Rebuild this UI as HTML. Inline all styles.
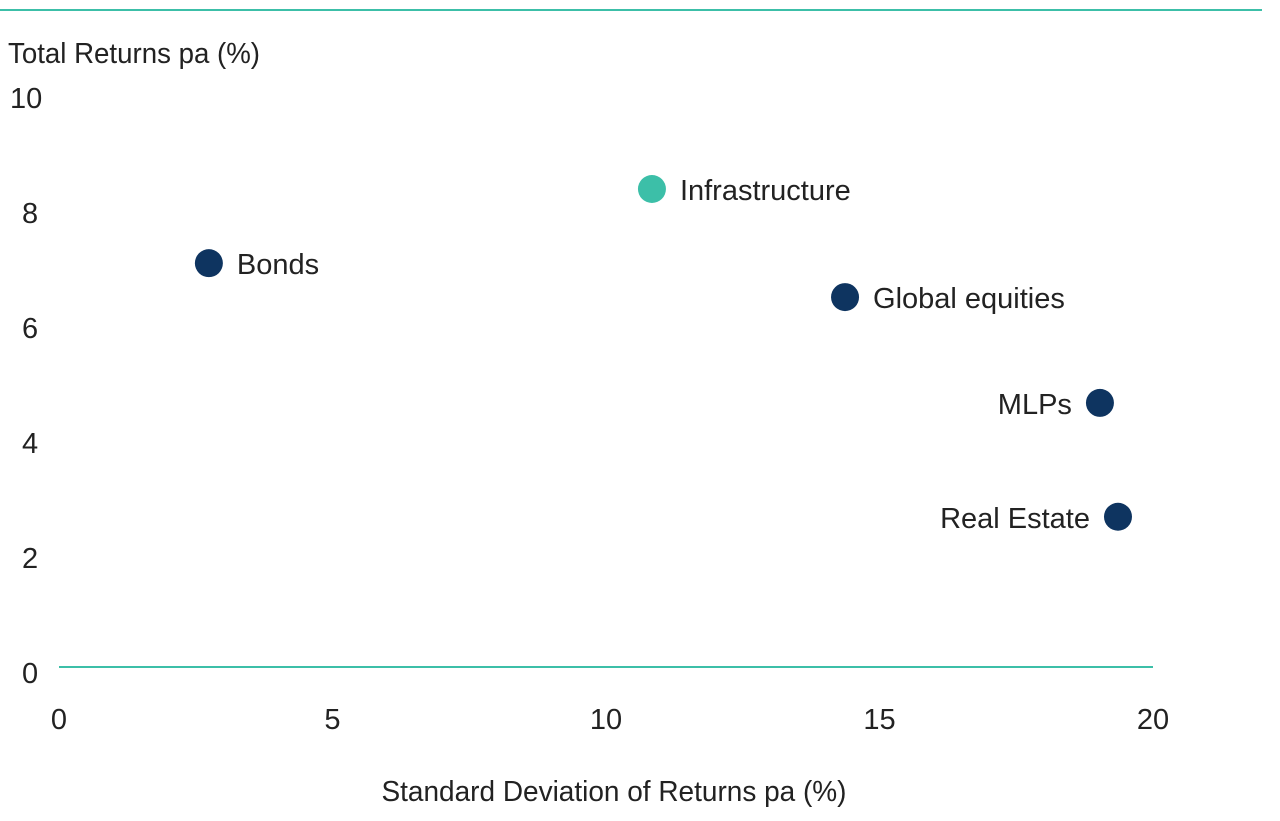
<!DOCTYPE html>
<html><head><meta charset="utf-8"><style>
html,body{margin:0;padding:0;background:#fff;}
svg{display:block;font-family:"Liberation Sans Narrow","Liberation Sans",sans-serif;}
</style></head><body>
<svg id="chart" width="1280" height="821" viewBox="0 0 1280 821" xmlns="http://www.w3.org/2000/svg">
<line x1="0" y1="10" x2="1262" y2="10" stroke="#3cbfa8" stroke-width="2"/>
<text x="8" y="63" font-size="29" fill="#222" textLength="252" lengthAdjust="spacingAndGlyphs">Total Returns pa (%)</text>
<text x="614" y="801" font-size="29" fill="#222" text-anchor="middle" textLength="465" lengthAdjust="spacingAndGlyphs">Standard Deviation of Returns pa (%)</text>
<line x1="59" y1="667" x2="1153" y2="667" stroke="#3cbfa8" stroke-width="2"/>
<g id="yticks"></g><g id="xticks"></g><g id="points"></g>
</svg>
<script>
const categories = ["Infrastructure","Bonds","Global equities","MLPs","Real Estate"];
const stdDev = [10.84, 2.74, 14.37, 19.03, 19.36];
const returns = [8.4, 7.11, 6.52, 4.68, 2.7];
const colors = ["#3cbfa8","#0e3460","#0e3460","#0e3460","#0e3460"];
const labelSide = ["right","right","right","left","left"];
const xTicks = [0,5,10,15,20];
const yTicks = [0,2,4,6,8,10];
const NS="http://www.w3.org/2000/svg";
function xs(v){return 59+v*54.7;}
function ys(v){return 672-v*57.5;}
const yg=document.getElementById('yticks');
yTicks.forEach(t=>{const e=document.createElementNS(NS,'text');


e.setAttribute('x',t===10?10:22);e.setAttribute('y',ys(t)+11);
e.setAttribute('font-size','29');e.setAttribute('fill','#222');e.textContent=t;yg.appendChild(e);});
const xg=document.getElementById('xticks');
xTicks.forEach(t=>{const e=document.createElementNS(NS,'text');


e.setAttribute('x',xs(t));e.setAttribute('y',729);e.setAttribute('text-anchor','middle');
e.setAttribute('font-size','29');e.setAttribute('fill','#222');e.textContent=t;xg.appendChild(e);});
const pg=document.getElementById('points');
categories.forEach((c,i)=>{const cx=xs(stdDev[i]),cy=ys(returns[i]);
const d=document.createElementNS(NS,'circle');


d.setAttribute('cx',cx);d.setAttribute('cy',cy);d.setAttribute('r',14);d.setAttribute('fill',colors[i]);pg.appendChild(d);
const l=document.createElementNS(NS,'text');


const right=labelSide[i]==='right';
l.setAttribute('x',right?cx+28:cx-28);l.setAttribute('y',cy+11);
l.setAttribute('text-anchor',right?'start':'end');
l.setAttribute('font-size','29');l.setAttribute('fill','#222');l.textContent=c;pg.appendChild(l);});
</script>
</body></html>
